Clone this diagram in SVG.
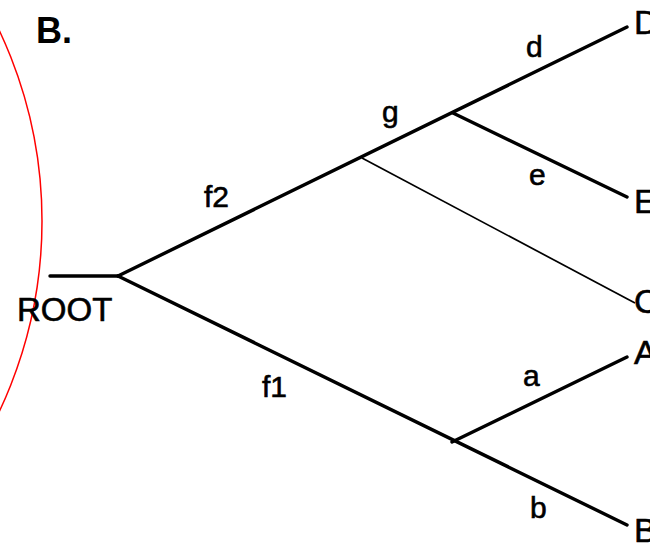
<svg xmlns="http://www.w3.org/2000/svg" width="650" height="543" viewBox="0 0 650 543">
<style>
text{font-family:"Liberation Sans",Arial,sans-serif;fill:#000;stroke:#000;stroke-width:0.6}
.lab{font-size:30px}
.leaf{font-size:34px}
.br{stroke:#000;stroke-width:3.4;fill:none;stroke-linecap:round}
.thin{stroke:#000;stroke-width:1.7;fill:none}
</style>
<rect width="650" height="543" fill="#fff"/>
<circle cx="-404" cy="221" r="446" fill="none" stroke="#ff0000" stroke-width="1.5"/>
<text x="36" y="43" style="font-size:36px;font-weight:bold;stroke-width:0">B.</text>
<g id="connectors">
<line class="br" x1="50" y1="276" x2="118" y2="276"/>
<line class="br" x1="118" y1="276" x2="627" y2="27"/>
<line class="br" x1="453" y1="113" x2="627" y2="197"/>
<line class="thin" x1="362" y1="158" x2="635" y2="303"/>
<line class="br" x1="118" y1="276" x2="627" y2="525"/>
<line class="br" x1="452" y1="442" x2="627" y2="357"/>
</g>
<g id="root"><text class="leaf" x="17" y="321" style="font-size:33px">ROOT</text></g>
<g id="labels">
<text class="lab" x="204" y="207">f2</text>
<text class="lab" x="262" y="397">f1</text>
<text class="lab" x="382" y="122">g</text>
<text class="lab" x="526" y="57">d</text>
<text class="lab" x="529" y="185">e</text>
<text class="lab" x="523" y="386">a</text>
<text class="lab" x="530" y="518">b</text>
</g>
<g id="leaf-D"><text class="leaf" x="634" y="34">D</text></g>
<g id="leaf-E"><text class="leaf" x="634" y="213">E</text></g>
<g id="leaf-C"><text class="leaf" x="634" y="313">C</text></g>
<g id="leaf-A"><text class="leaf" x="634" y="364">A</text></g>
<g id="leaf-B"><text class="leaf" x="634" y="542">B</text></g>
</svg>
